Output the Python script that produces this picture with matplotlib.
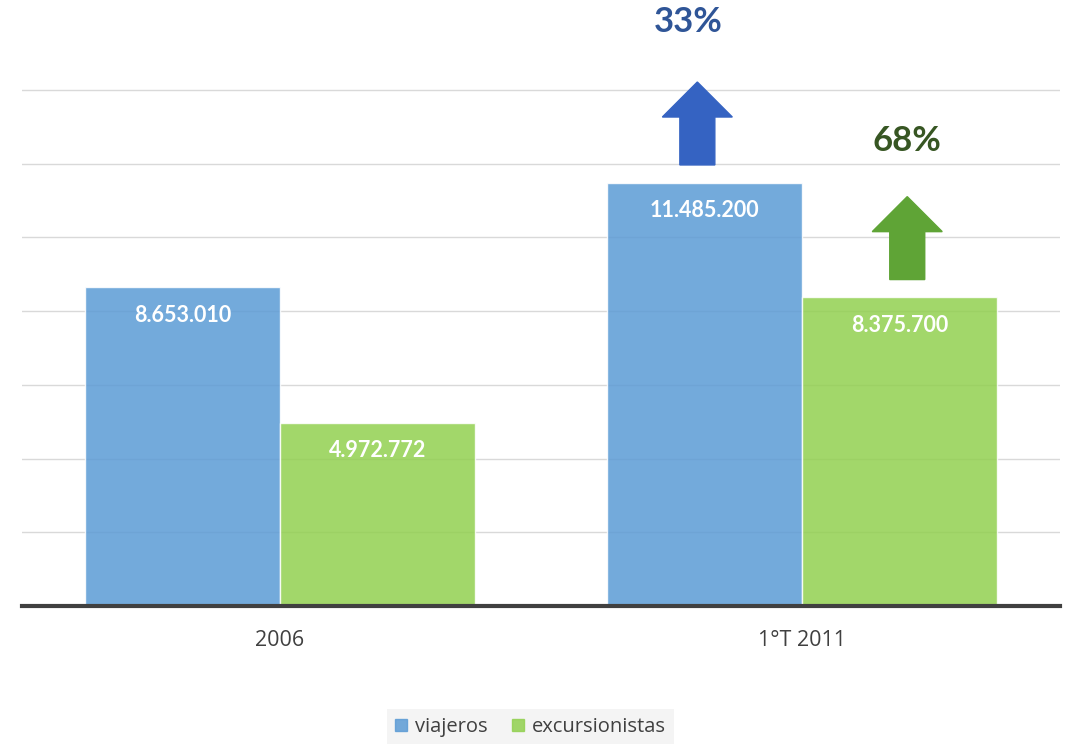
import matplotlib.pyplot as plt
from matplotlib.patches import FancyArrow, Patch

# data
categories = ['2006', '1°T 2011']
viajeros = [8653010, 11485200]
excursionistas = [4972772, 8375700]
value_labels_v = ['8.653.010', '11.485.200']
value_labels_e = ['4.972.772', '8.375.700']
growth = ['33%', '68%']

blue = '#5b9bd5'
green = '#92d050'

fig = plt.figure(figsize=(10.71, 7.44), dpi=100)
ax = fig.add_axes([0.0205, 0.1855, 0.9692, 0.8145])

x = [0, 1]
w = 0.373
xv = [i - w / 2 for i in x]
xe = [i + w / 2 for i in x]

ax.bar(xv, viajeros, width=w, color=blue, alpha=0.85, edgecolor='white', linewidth=1, zorder=2)
ax.bar(xe, excursionistas, width=w, color=green, alpha=0.85, edgecolor='white', linewidth=1, zorder=2)

for xi, v, lab in zip(xv, viajeros, value_labels_v):
    ax.text(xi, v - 0.76e6, lab, ha='center', va='center', color='white',
            fontsize=15.5, fontweight='bold', family='Lato', zorder=3)
for xi, v, lab in zip(xe, excursionistas, value_labels_e):
    ax.text(xi, v - 0.76e6, lab, ha='center', va='center', color='white',
            fontsize=15.5, fontweight='bold', family='Lato', zorder=3)

# growth arrows above the 2011 bars
arrow_specs = [
    (xv[1] - 0.014, viajeros[1], '#3563c2', '#2f5597', 15.85e6, -0.018),
    (xe[1] + 0.015, excursionistas[1], '#5fa436', '#375623', 12.62e6, 0.0),
]
for (xa, val, col, tcol, ty, dx), g in zip(arrow_specs, growth):
    base = val + 0.48e6
    ax.add_patch(FancyArrow(xa, base, 0, 2.25e6, width=0.067, head_width=0.134,
                            head_length=0.95e6, length_includes_head=True,
                            color=col, zorder=3))
    ax.text(xa + dx, ty, g, ha='center', va='center', color=tcol,
            fontsize=25, fontweight='bold', family='Lato')

ax.set_xlim(-0.494, 1.494)
ax.set_ylim(0, 16.44e6)
ax.set_yticks([2e6 * i for i in range(1, 8)])
ax.yaxis.grid(True, color='#d9d9d9', linewidth=1, zorder=0)
ax.set_axisbelow(True)
ax.tick_params(axis='y', left=False, labelleft=False)
ax.set_xticks(x)
ax.set_xticklabels(categories, fontsize=15.5, color='#404040', family='Open Sans')
ax.tick_params(axis='x', length=0, pad=17)
for s in ['top', 'right', 'left']:
    ax.spines[s].set_visible(False)
ax.spines['bottom'].set_color('#404040')
ax.spines['bottom'].set_linewidth(3)

handles = [Patch(color=blue, alpha=0.85), Patch(color=green, alpha=0.85)]
leg = fig.legend(handles, ['viajeros', 'excursionistas'], loc='lower center',
                 bbox_to_anchor=(0.495, -0.015), ncol=2, frameon=True,
                 facecolor='#f2f2f2', edgecolor='none', fancybox=False,
                 prop={'family': 'Open Sans', 'size': 14.5},
                 handlelength=0.6, handleheight=0.6, handletextpad=0.4,
                 columnspacing=1.2, labelcolor='#404040')

fig.savefig('out.png', dpi=100)
